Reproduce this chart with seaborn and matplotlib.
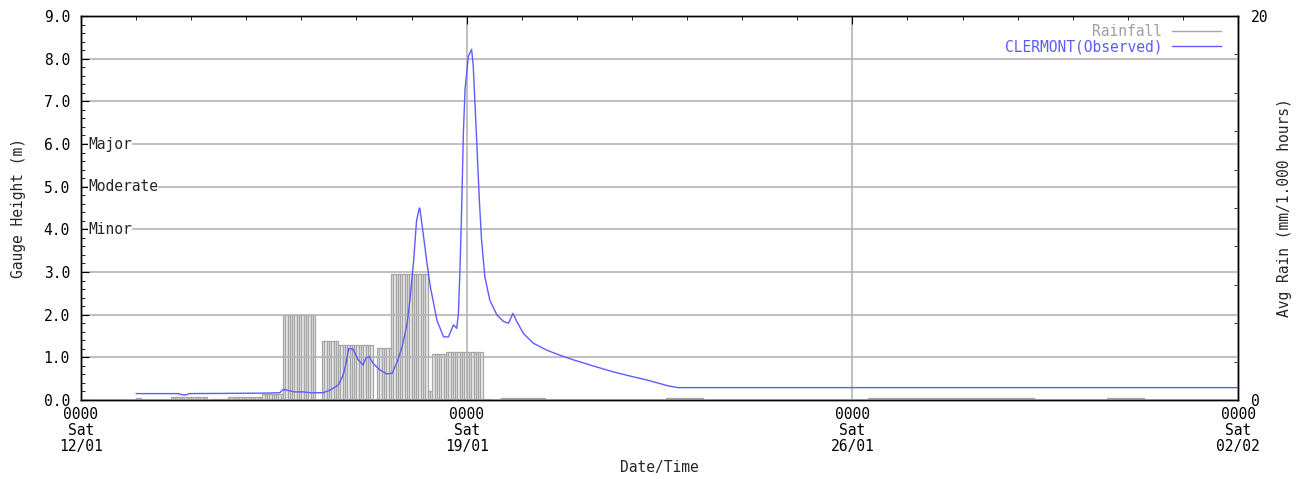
import numpy as np
import seaborn as sns
import matplotlib
matplotlib.use('Agg')
import matplotlib.pyplot as plt
import matplotlib.transforms as mtransforms
from matplotlib.lines import Line2D
from matplotlib.ticker import MultipleLocator, FixedLocator

# gauge height (m), time in days since Sat 12/01 0000
gauge_day = [1.00, 1.76, 1.85, 1.91, 1.96, 3.25, 3.61, 3.67, 3.88, 4.03, 4.16,
             4.39, 4.52, 4.67, 4.76, 4.81, 4.86, 4.94, 5.03, 5.12, 5.17, 5.23,
             5.30, 5.43, 5.55, 5.65, 5.74, 5.83, 5.92, 5.97, 6.04, 6.09, 6.14,
             6.15, 6.21, 6.28, 6.34, 6.46, 6.58, 6.67, 6.76, 6.82, 6.85, 6.88,
             6.91, 6.94, 6.97, 7.03, 7.09, 7.12, 7.17, 7.23, 7.27, 7.33, 7.42,
             7.55, 7.67, 7.76, 7.84, 7.91, 8.03, 8.21, 8.45, 8.69, 8.94, 9.29,
             9.66, 9.97, 10.27, 10.66, 10.84, 21.0]
gauge_m = [0.15, 0.15, 0.12, 0.12, 0.15, 0.16, 0.17, 0.25, 0.19, 0.19, 0.17,
           0.17, 0.23, 0.35, 0.59, 0.86, 1.21, 1.19, 0.94, 0.82, 0.98, 1.02,
           0.86, 0.70, 0.61, 0.63, 0.90, 1.25, 1.80, 2.34, 3.30, 4.20, 4.50,
           4.49, 3.91, 3.20, 2.66, 1.87, 1.48, 1.48, 1.76, 1.68, 2.03, 3.12,
           4.53, 6.25, 7.27, 8.05, 8.22, 7.81, 6.41, 4.69, 3.75, 2.89, 2.34,
           1.99, 1.84, 1.80, 2.03, 1.84, 1.56, 1.33, 1.17, 1.05, 0.94, 0.80,
           0.66, 0.56, 0.47, 0.33, 0.29, 0.29]

# rainfall blocks: hours since 12/01 0000 and rate (mm/h)
rain_start_hr = [24, 39, 57, 64, 79, 88, 105, 112, 129, 135, 151, 153, 159,
                 175, 183, 255, 343, 447]
rain_end_hr = [26, 55, 64, 79, 88, 102, 112, 127, 135, 151, 153, 159, 175,
               178, 202, 271, 415, 463]
rain_rate = [0.11, 0.16, 0.07, 0.16, 0.33, 4.44, 3.07, 2.87, 2.71, 6.56, 0.49,
             2.38, 2.51, 0.06, 0.08, 0.10, 0.08, 0.10]

x_tick_days = [0, 7, 14, 21]
x_tick_labels = ['0000\nSat\n12/01', '0000\nSat\n19/01',
                 '0000\nSat\n26/01', '0000\nSat\n02/02']
flood_levels = [4.0, 5.0, 6.0]
flood_names = ['Minor', 'Moderate', 'Major']

BLUE = '#5c5cff'
GREY = '#a6a6a6'
GRID = '#b4b4b4'


def expand_rain_hours():
    hours, rates = [], []
    for start, end, rate in zip(rain_start_hr, rain_end_hr, rain_rate):
        for h in range(start, end):
            hours.append(h)
            rates.append(rate)
    return np.array(hours) / 24.0, rates


def main():
    sns.set_style('white')
    plt.rcParams['font.family'] = ['DejaVu Sans Mono']
    plt.rcParams['font.size'] = 10.5

    fig = plt.figure(figsize=(13.06, 4.79), dpi=100)
    ax = fig.add_axes([81 / 1306, 79 / 479, 1157 / 1306, 384 / 479])
    ax2 = ax.twinx()
    ax.set_zorder(ax2.get_zorder() + 1)
    ax.patch.set_visible(False)

    # rainfall, hourly bars
    rain_x, rain_h = expand_rain_hours()
    ax2.bar(rain_x, rain_h, width=1 / 24, align='edge', color='#ebebeb',
            edgecolor=GREY, linewidth=0.9)
    ax2.set_ylim(0, 20)
    ax2.yaxis.set_major_locator(FixedLocator([0, 20]))
    ax2.yaxis.set_minor_locator(MultipleLocator(2))
    ax2.set_yticklabels(['0', '20'])
    ax2.tick_params(axis='y', which='both', direction='in', right=True,
                    length=3, pad=9, colors='black')
    ax2.set_ylabel('Avg Rain (mm/1.000 hours)', rotation=90)
    ax2.yaxis.set_label_coords(1.0337, 0.5)
    ax2.grid(False)

    # gauge height
    sns.lineplot(x=gauge_day, y=gauge_m, ax=ax, color=BLUE, lw=1.0)
    ax.set_xlim(0, 21)
    ax.set_ylim(0, 9)
    ax.set_xticks(x_tick_days)
    ax.set_xticklabels(x_tick_labels, linespacing=1.1)
    ax.xaxis.set_minor_locator(MultipleLocator(1))
    ax.set_yticks(np.arange(0, 9.1, 1.0))
    ax.set_yticklabels([f'{v:.1f}' for v in np.arange(0, 9.1, 1.0)])
    ax.yaxis.set_minor_locator(MultipleLocator(0.2))
    ax.tick_params(axis='both', which='major', direction='in', length=6,
                   top=True, right=False, colors='black')
    ax.tick_params(axis='both', which='minor', direction='in', length=3,
                   top=True, right=False, colors='black')
    ax.tick_params(axis='x', which='major', pad=5)
    ax.tick_params(axis='y', which='major', pad=8)
    ax.grid(True, which='major', color=GRID, linewidth=1.2)

    for spine in list(ax.spines.values()) + list(ax2.spines.values()):
        spine.set_color('black')
        spine.set_linewidth(1.0)

    ax.set_ylabel('Gauge Height (m)')
    ax.yaxis.set_label_coords(-0.0474, 0.5)
    ax.set_xlabel('Date/Time')
    ax.xaxis.set_label_coords(0.5, -0.155)

    trans = mtransforms.blended_transform_factory(ax.transAxes, ax.transData)
    for level, name in zip(flood_levels, flood_names):
        ax.text(0.006, level, name, transform=trans, ha='left', va='center',
                bbox=dict(facecolor='white', edgecolor='none', pad=0))

    handles = [Line2D([], [], color=GREY, lw=1.0),
               Line2D([], [], color=BLUE, lw=1.0)]
    ax.legend(handles, ['Rainfall', 'CLERMONT(Observed)'], loc='upper right',
              bbox_to_anchor=(0.9875, 0.9857), frameon=False,
              markerfirst=False, labelcolor=['#a0a0a0', BLUE],
              handlelength=3.3, handletextpad=0.7, labelspacing=0.0,
              borderaxespad=0.0, borderpad=0.2)

    fig.savefig('out.png', dpi=100, facecolor='white')


if __name__ == '__main__':
    main()
